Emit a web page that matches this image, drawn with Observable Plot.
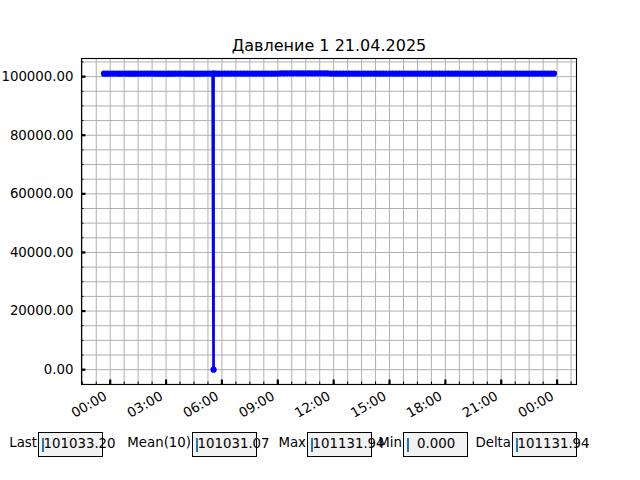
<!DOCTYPE html>
<html>
<head>
<meta charset="utf-8">
<script src="https://cdn.jsdelivr.net/npm/d3@7"></script>
<script src="https://cdn.jsdelivr.net/npm/@observablehq/plot@0.6"></script>
<style>
  body { margin: 0; background: white; }
  #wrap { position: relative; width: 640px; height: 480px; font-family: "DejaVu Sans", sans-serif; font-size: 13.33px; color: black; }
  #wrap svg { position: absolute; left: 0; top: 0; }
  .lbl { position: absolute; top: 434px; height: 18px; line-height: 18px; text-align: right; white-space: pre; }
  .box { position: absolute; top: 432px; width: 63px; height: 23px; background: #f2f2f2; border: 1px solid black; }
  .cur { position: absolute; left: 3px; top: 5px; width: 2px; height: 14px; background: #1f77b4; }
  .val { position: absolute; left: 4.5px; top: 2px; line-height: 18px; white-space: pre; }
</style>
</head>
<body>
<div id="wrap"></div>
<script>
// ---- data (10-minute readings, 20-21.04.2025) ----
const title = "Давление 1 21.04.2025";
const times = [
  "20 23:40","20 23:50",
  "21 00:00","21 00:10","21 00:20","21 00:30","21 00:40","21 00:50",
  "21 01:00","21 01:10","21 01:20","21 01:30","21 01:40","21 01:50",
  "21 02:00","21 02:10","21 02:20","21 02:30","21 02:40","21 02:50",
  "21 03:00","21 03:10","21 03:20","21 03:30","21 03:40","21 03:50",
  "21 04:00","21 04:10","21 04:20","21 04:30","21 04:40","21 04:50",
  "21 05:00","21 05:10","21 05:20","21 05:30","21 05:33","21 05:33","21 05:40","21 05:50",
  "21 06:00","21 06:10","21 06:20","21 06:30","21 06:40","21 06:50",
  "21 07:00","21 07:10","21 07:20","21 07:30","21 07:40","21 07:50",
  "21 08:00","21 08:10","21 08:20","21 08:30","21 08:40","21 08:50",
  "21 09:00","21 09:10","21 09:20","21 09:30","21 09:40","21 09:50",
  "21 10:00","21 10:10","21 10:20","21 10:30","21 10:40","21 10:50",
  "21 11:00","21 11:10","21 11:20","21 11:30","21 11:40","21 11:50",
  "21 12:00","21 12:10","21 12:20","21 12:30","21 12:40","21 12:50",
  "21 13:00","21 13:10","21 13:20","21 13:30","21 13:40","21 13:50",
  "21 14:00","21 14:10","21 14:20","21 14:30","21 14:40","21 14:50",
  "21 15:00","21 15:10","21 15:20","21 15:30","21 15:40","21 15:50",
  "21 16:00","21 16:10","21 16:20","21 16:30","21 16:40","21 16:50",
  "21 17:00","21 17:10","21 17:20","21 17:30","21 17:40","21 17:50",
  "21 18:00","21 18:10","21 18:20","21 18:30","21 18:40","21 18:50",
  "21 19:00","21 19:10","21 19:20","21 19:30","21 19:40","21 19:50",
  "21 20:00","21 20:10","21 20:20","21 20:30","21 20:40","21 20:50",
  "21 21:00","21 21:10","21 21:20","21 21:30","21 21:40","21 21:50",
  "21 22:00","21 22:10","21 22:20","21 22:30","21 22:40","21 22:50",
  "21 23:00","21 23:10","21 23:20","21 23:30","21 23:40","21 23:50"
];
const values = [
  101024.6,101026.1,
  101027.3,101029.8,101028.4,101026.1,101030.5,101028.2,
  101025.7,101024.8,101023.9,101027.4,101028.3,101029.1,
  101031.6,101030.2,101028.8,101026.3,101025.1,101024.5,
  101022.8,101024.1,101025.9,101028.4,101029.6,101030.2,
  101027.7,101026.2,101025.1,101023.6,101025.0,101026.8,
  101029.3,101030.1,101031.0,101030.6,0.0,101030.4,101028.6,101026.2,
  101029.5,101031.1,101032.7,101034.0,101035.1,101036.4,
  101037.8,101039.0,101040.2,101041.5,101042.6,101043.8,
  101044.9,101046.3,101047.5,101048.7,101050.2,101052.8,
  101055.4,101118.6,101121.3,101123.0,101124.9,101127.2,
  101128.4,101129.6,101131.94,101130.8,101129.7,101128.5,
  101127.1,101125.7,101124.0,101122.4,101119.3,101058.7,
  101057.0,101055.2,101053.9,101052.6,101051.2,101049.9,
  101048.5,101047.1,101045.9,101044.8,101043.5,101042.3,
  101041.4,101040.7,101039.8,101038.9,101038.0,101037.2,
  101036.4,101035.6,101034.8,101034.1,101033.5,101032.8,
  101032.1,101031.5,101030.8,101030.2,101029.8,101029.4,
  101029.0,101028.7,101028.3,101027.9,101028.2,101028.6,
  101029.2,101029.8,101030.5,101031.2,101031.9,101032.5,
  101033.2,101033.9,101034.3,101034.6,101034.2,101033.8,
  101033.1,101032.4,101032.0,101031.7,101031.3,101030.9,
  101030.2,101029.6,101028.9,101028.3,101028.7,101029.1,
  101029.8,101030.4,101029.4,101030.2,101030.8,101031.5,
  101031.1,101030.6,101031.3,101031.9,101030.7,101033.2
];
const statLabels = ["Last", "Mean(10)", "Max", "Min", "Delta"];

// ---- build table ----
function parseT(s) {
  const [d, hm] = s.split(" ");
  const [h, m] = hm.split(":").map(Number);
  return new Date(2025, 3, +d, h, m);
}
const data = times.map((t, i) => ({t: parseT(t), v: values[i]}));

// matplotlib-like 5% margins
const [t0, t1] = d3.extent(data, d => +d.t);
const [v0, v1] = d3.extent(data, d => d.v);
const tp = (t1 - t0) * 0.05, vp = (v1 - v0) * 0.05;
const xDomain = [new Date(t0 - tp), new Date(t1 + tp)];
const yDomain = [v0 - vp, v1 + vp];

// ticks
const day0 = new Date(2025, 3, 21, 0, 0);
const majorX = d3.timeHour.every(3).range(day0, new Date(2025, 3, 22, 0, 1));
const minorX = d3.range(-2, 34).map(k => new Date(+day0 + k * 45 * 60000)).filter(d => d >= xDomain[0] && d <= xDomain[1]);
const majorY = d3.range(0, 100001, 20000);
const minorY = d3.range(-5000, 106000, 5000).filter(v => v >= yDomain[0] && v <= yDomain[1]);
const fmtT = d3.timeFormat("%H:%M");

const W = 640, H = 480, mL = 81, mR = 64, mT = 58, mB = 96;
const iW = W - mL - mR, iH = H - mT - mB;

const chart = Plot.plot({
  width: W, height: H,
  marginLeft: mL, marginRight: mR, marginTop: mT, marginBottom: mB,
  style: {fontFamily: "DejaVu Sans", fontSize: "13.33px", background: "transparent", color: "black", overflow: "visible"},
  x: {type: "time", domain: xDomain, axis: null},
  y: {domain: yDomain, axis: null},
  marks: [
    Plot.ruleX(minorX, {x: d => d, stroke: "#b0b0b0", strokeWidth: 1}),
    Plot.ruleY(minorY, {y: d => d, stroke: "#b0b0b0", strokeWidth: 1}),
    Plot.line(data, {x: "t", y: "v", stroke: "#0000ff", strokeWidth: 2.7}),
    Plot.dot(data, {x: "t", y: "v", r: 3.1, fill: "#0000ff", stroke: "none"}),
    // ticks (inward)
    Plot.ruleX(minorX, {x: d => d, insetTop: iH - 2.5, stroke: "black", strokeWidth: 1}),
    Plot.ruleX(majorX, {x: d => d, insetTop: iH - 4.5, stroke: "black", strokeWidth: 2.2}),
    Plot.ruleY(minorY, {y: d => d, insetRight: iW - 2.5, stroke: "black", strokeWidth: 1}),
    Plot.ruleY(majorY, {y: d => d, insetRight: iW - 4.5, stroke: "black", strokeWidth: 2.2}),
    Plot.frame({stroke: "black", strokeWidth: 1.1}),
    // tick labels
    Plot.text(majorY, {y: d => d, frameAnchor: "left", textAnchor: "end", dx: -8, text: d => d.toFixed(2), fill: "black", fontSize: 13.33}),
    Plot.text(majorX, {x: d => d, frameAnchor: "bottom", textAnchor: "end", lineAnchor: "top", rotate: -30, dx: -7, dy: 6, text: d => fmtT(d), fill: "black", fontSize: 13.33}),
    // title
    Plot.text([title], {frameAnchor: "top", dy: -13, lineAnchor: "middle", text: d => d, fill: "black", fontSize: 16})
  ]
});

const wrap = document.getElementById("wrap");
wrap.appendChild(chart);

// stats widgets
const last10 = values.slice(-10);
const stats = [
  values[values.length - 1].toFixed(2),
  d3.mean(last10).toFixed(2),
  d3.max(values).toFixed(2),
  "  " + d3.min(values).toFixed(3),
  (d3.max(values) - d3.min(values)).toFixed(2)
];
const boxLeft = [38, 192, 307, 403, 512];
statLabels.forEach((lab, i) => {
  const l = document.createElement("div");
  l.className = "lbl";
  l.textContent = lab;
  l.style.right = (W - boxLeft[i] + 1) + "px";
  wrap.appendChild(l);
  const b = document.createElement("div");
  b.className = "box";
  b.style.left = boxLeft[i] + "px";
  b.innerHTML = '<div class="cur"></div><div class="val"></div>';
  b.querySelector(".val").textContent = stats[i];
  wrap.appendChild(b);
});
</script>
</body>
</html>
